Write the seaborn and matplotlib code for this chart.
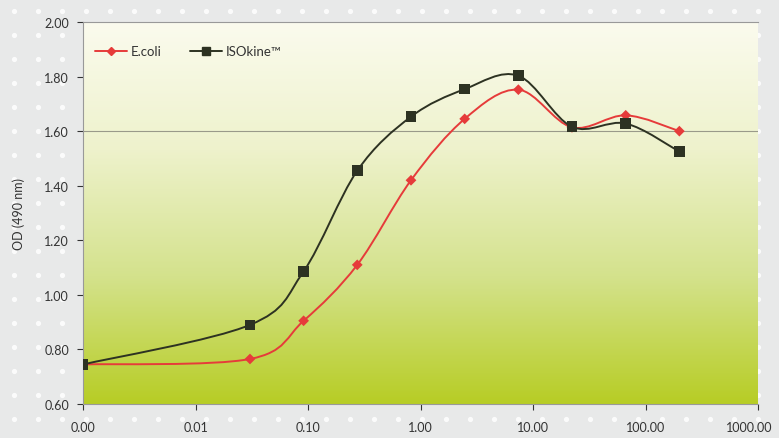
import numpy as np
import pandas as pd
import matplotlib.pyplot as plt
import matplotlib.colors as mcolors
from matplotlib.path import Path
from matplotlib.patches import PathPatch
from matplotlib.transforms import ScaledTranslation
import seaborn as sns

# dati (diluizioni 1:3 a partire da 200, piu' lo zero)
conc = [0.001, 0.0305, 0.0914, 0.274, 0.823, 2.47, 7.41, 22.2, 66.7, 200.0]
ecoli = [0.745, 0.765, 0.905, 1.11, 1.42, 1.645, 1.752, 1.614, 1.658, 1.60]
isokine = [0.745, 0.89, 1.086, 1.455, 1.653, 1.754, 1.803, 1.616, 1.628, 1.525]
x_ticks = [0.001, 0.01, 0.1, 1, 10, 100, 1000]
x_labels = ["0.00", "0.01", "0.10", "1.00", "10.00", "100.00", "1000.00"]
y_ticks = [0.60, 0.80, 1.00, 1.20, 1.40, 1.60, 1.80, 2.00]

sns.set_style("white")
plt.rcParams['font.family'] = ['Lato', 'DejaVu Sans']

fig = plt.figure(figsize=(7.79, 4.39), dpi=100)
fig.patch.set_facecolor("#e8e9e9")

# sfondo a puntini bianchi
bg = fig.add_axes([0, 0, 1, 1], zorder=-10)
bg.set_xlim(0, 779)
bg.set_ylim(439, 0)
bg.axis("off")
gx, gy = np.meshgrid(np.arange(14, 779, 24), np.arange(12, 439, 24))
bg.scatter(gx.ravel(), gy.ravel(), s=14, color="white", alpha=0.85, linewidths=0)

ax = fig.add_axes([83 / 779, 34 / 439, 675 / 779, 382 / 439])
ax.set_xscale("log")
ax.set_xlim(0.001, 1000)
ax.set_ylim(0.6, 2.0)

# gradiente verde
cmap = mcolors.LinearSegmentedColormap.from_list(
    "verde", ["#b7cd25", "#d4e28c", "#eef2cc", "#fbfbee"], N=256)
grad = np.linspace(0, 1, 256).reshape(-1, 1)
ax.imshow(grad, cmap=cmap, aspect="auto", extent=[0, 1, 0, 1],
          transform=ax.transAxes, origin="lower", zorder=0)

ax.axhline(1.6, color="#9a9a8a", lw=0.8, zorder=1)


def curva_liscia(xs, ys):
    # spline tipo Excel (Catmull-Rom -> Bezier) nello spazio log-x
    lx = np.log10(xs)
    ys = np.asarray(ys)
    n = len(lx)
    verts = [(xs[0], ys[0])]
    codes = [Path.MOVETO]
    for i in range(n - 1):
        p0 = (lx[max(i - 1, 0)], ys[max(i - 1, 0)])
        p1 = (lx[i], ys[i])
        p2 = (lx[i + 1], ys[i + 1])
        p3 = (lx[min(i + 2, n - 1)], ys[min(i + 2, n - 1)])
        c1 = (p1[0] + (p2[0] - p0[0]) / 6, p1[1] + (p2[1] - p0[1]) / 6)
        c2 = (p2[0] - (p3[0] - p1[0]) / 6, p2[1] - (p3[1] - p1[1]) / 6)
        for c in (c1, c2, p2):
            verts.append((10 ** c[0], c[1]))
        codes += [Path.CURVE4] * 3
    return Path(verts, codes)


rosso = "#e63b3a"
scuro = "#2d3222"
for ys, col in [(ecoli, rosso), (isokine, scuro)]:
    ax.add_patch(PathPatch(curva_liscia(conc, ys), facecolor="none",
                           edgecolor=col, lw=1.4, zorder=3))

df = pd.DataFrame({"conc": conc * 2,
                   "od": ecoli + isokine,
                   "serie": ["E.coli"] * len(conc) + ["ISOkine\u2122"] * len(conc)})
sns.scatterplot(data=df, x="conc", y="od", hue="serie", style="serie",
                markers={"E.coli": "D", "ISOkine\u2122": "s"},
                palette={"E.coli": rosso, "ISOkine\u2122": scuro},
                size="serie", sizes={"E.coli": 30, "ISOkine\u2122": 58},
                linewidth=0, ax=ax, zorder=4, legend=False)

ax.set_xticks(x_ticks)
ax.set_xticklabels(x_labels)
ax.xaxis.set_minor_locator(plt.NullLocator())
ax.set_yticks(y_ticks)
ax.set_yticklabels([f"{v:.2f}" for v in y_ticks])
ax.tick_params(axis="both", labelsize=9, colors="#333333", length=4,
               direction="out", width=0.8, pad=8)
ax.tick_params(axis="y", pad=6)
ax.set_xlabel("")
ax.set_ylabel("OD (490 nm)", fontsize=9, color="#333333", labelpad=14)

# l'ultima etichetta sta al bordo: la sposto un po' a sinistra
ultima = ax.get_xticklabels()[-1]
ultima.set_transform(ultima.get_transform()
                     + ScaledTranslation(-9 / 100, 0, fig.dpi_scale_trans))

for s in ["left", "bottom", "top"]:
    ax.spines[s].set_color("#999999")
    ax.spines[s].set_linewidth(0.8)
ax.spines["right"].set_visible(False)
ax.tick_params(axis="x", bottom=True)
ax.tick_params(axis="y", left=True)

h1 = plt.Line2D([], [], color=rosso, lw=1.4, marker="D", markersize=4.5)
h2 = plt.Line2D([], [], color=scuro, lw=1.4, marker="s", markersize=6)
ax.legend([h1, h2], ["E.coli", "ISOkine\u2122"], loc="upper left",
          bbox_to_anchor=(0.0, 0.97), ncol=2, frameon=False, fontsize=9.5,
          handlelength=2.4, columnspacing=2.2, handletextpad=0.3,
          labelcolor="#333333")

fig.savefig("out.png", dpi=100)
